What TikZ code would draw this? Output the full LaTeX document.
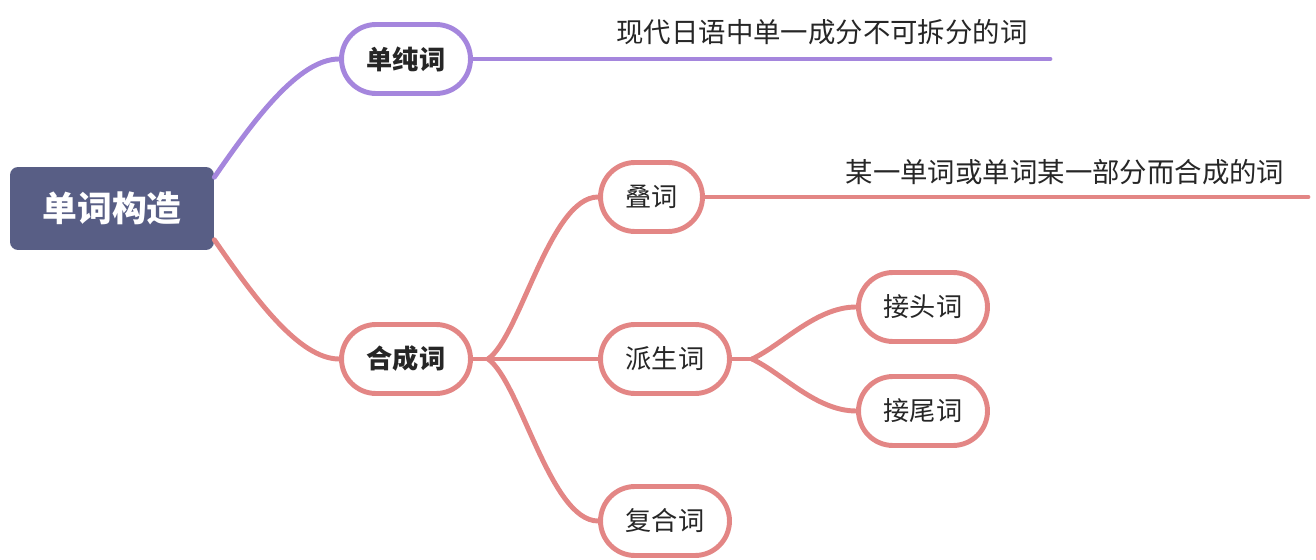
\documentclass[tikz,border=0pt]{standalone}
\usepackage{fontspec}
\setmainfont{Noto Sans CJK SC}

\definecolor{rootblue}{HTML}{585E85}
\definecolor{lavender}{HTML}{A586DD}
\definecolor{rosered}{HTML}{E38685}
\definecolor{inkgray}{HTML}{262626}

\begin{document}
\begin{tikzpicture}[x=0.02cm, y=-0.02cm,
        rootbox/.style={fill=rootblue, text=white, rounded corners=0.16cm,
            minimum width=4.08cm, minimum height=1.66cm,
            font=\fontsize{19.8}{22}\selectfont\bfseries},
        topicbox/.style={rectangle, rounded corners=0.69cm, draw, line width=2.8pt, fill=white,
            minimum width=2.58cm, minimum height=1.38cm, text=inkgray,
            font=\fontsize{14.9}{17}\selectfont},
        purplebox/.style={topicbox, draw=lavender, font=\fontsize{14.9}{17}\selectfont\bfseries},
        redbox/.style={topicbox, draw=rosered},
        purpleline/.style={draw=lavender, line width=2.8pt, line cap=round},
        redline/.style={draw=rosered, line width=2.8pt, line cap=round},
        note/.style={text=inkgray, font=\fontsize{15.6}{18}\selectfont}]
        \useasboundingbox (0,0) rectangle (1316,560);
        \node[rootbox] (root) at (112,208.5) {单词构造};
        \node[purplebox] (dc) at (406,59) {单纯词};
        \node[purplebox, draw=rosered] (hc) at (406,359) {合成词};
        \node[redbox, minimum width=2.04cm] (dd) at (651.5,197) {叠词};
        \node[redbox] (ps) at (665,359) {派生词};
        \node[redbox] (fh) at (665,521) {复合词};
        \node[redbox] (jt) at (923,307) {接头词};
        \node[redbox] (jw) at (923,411) {接尾词};
        \node[note] (dcnote) at (822,32) {现代日语中单一成分不可拆分的词};
        \node[note] (ddnote) at (1065,172) {某一单词或单词某一部分而合成的词};
        % free ends and branch points
        \coordinate (dcend) at (1050,59);
        \coordinate (ddend) at (1308,197);
        \coordinate (hcj) at (488,359);
        \coordinate (psj) at (752,359);
        \draw[purpleline] (root.17) .. controls +(40,-58) and +(-40,0) .. (dc.west);
        \draw[purpleline] (dc.east) -- (dcend);
        \draw[redline] (root.-17) .. controls +(40,58) and +(-40,0) .. (hc.west);
        \draw[redline] (hc.east) -- (ps.west);
        \draw[redline] (hcj) .. controls +(32,-22) and +(-48,0) .. (dd.west);
        \draw[redline] (hcj) .. controls +(32,22) and +(-48,0) .. (fh.west);
        \draw[redline] (dd.east) -- (ddend);
        \draw[redline] (ps.east) -- (psj);
        \draw[redline] (psj) .. controls +(30,-14) and +(-40,0) .. (jt.west);
        \draw[redline] (psj) .. controls +(30,14) and +(-40,0) .. (jw.west);
    \end{tikzpicture}
\end{document}
